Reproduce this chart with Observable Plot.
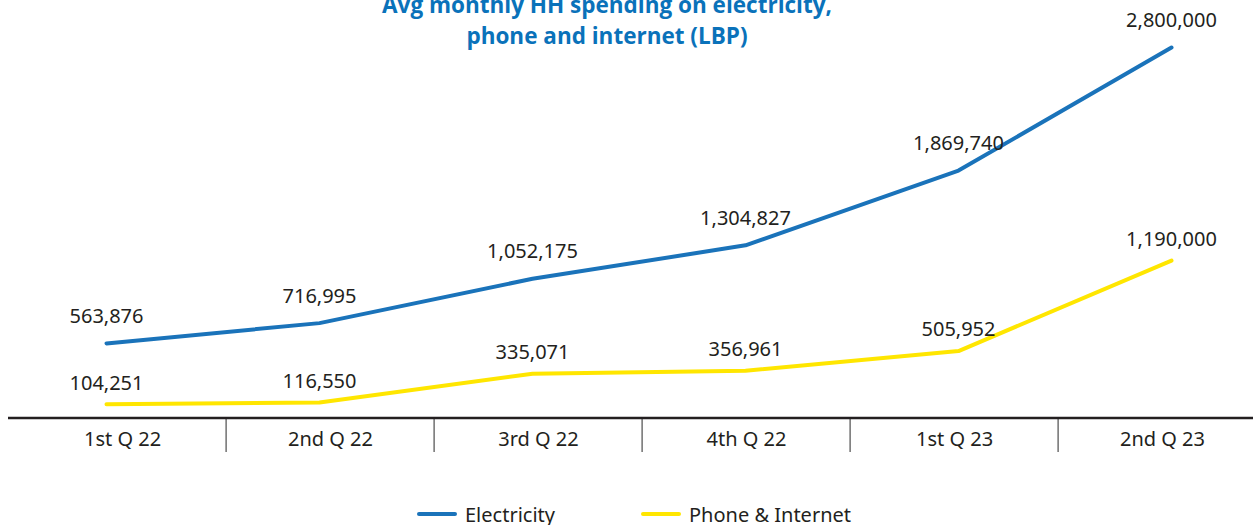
<!DOCTYPE html>
<html>
<head>
<meta charset="utf-8">
<script src="https://cdn.jsdelivr.net/npm/d3@7"></script>
<script src="https://cdn.jsdelivr.net/npm/@observablehq/plot@0.6"></script>
<style>
  html, body { margin: 0; padding: 0; background: #fff; overflow: hidden; }
  #wrap { position: relative; width: 1253px; height: 525px; }
  #wrap svg { position: absolute; left: 0; top: 0; }
  #title { position: absolute; left: 0; top: -11px; width: 1214px; text-align: center;
    font-family: "Open Sans", sans-serif; font-weight: 700; font-size: 22.5px; line-height: 31px; color: #0a72ba; z-index: 2; }
  #legend { position: absolute; top: 501px; left: 0; width: 1253px; height: 26px;
    font-family: "Noto Sans", sans-serif; font-size: 20px; color: #231f20; z-index: 2; }
  .item { position: absolute; top: 0; display: flex; align-items: center; height: 26px; }
  .sw { width: 40px; height: 4px; border-radius: 2px; margin-right: 8px; }
</style>
</head>
<body>
<div id="wrap">
  <div id="title">Avg monthly HH spending on electricity,<br>phone and internet (LBP)</div>
  <div id="legend"></div>
</div>
<script>
const categories = ["1st Q 22", "2nd Q 22", "3rd Q 22", "4th Q 22", "1st Q 23", "2nd Q 23"];
const electricity = [563876, 716995, 1052175, 1304827, 1869740, 2800000];
const phoneInternet = [104251, 116550, 335071, 356961, 505952, 1190000];
const seriesNames = ["Electricity", "Phone & Internet"];
const seriesColors = ["#1a73ba", "#ffe600"];

const rows = [];
categories.forEach((c, i) => {
  rows.push({cat: c, value: electricity[i], series: seriesNames[0]});
  rows.push({cat: c, value: phoneInternet[i], series: seriesNames[1]});
});
const elecRows = rows.filter(d => d.series === seriesNames[0]);
const phoneRows = rows.filter(d => d.series === seriesNames[1]);
const fmt = d3.format(",");
const font = "'Noto Sans', sans-serif";
const labelStyle = {x: "cat", y: "value", text: d => fmt(d.value), lineAnchor: "middle", fontSize: 20, fontFamily: font, fill: "#231f20"};

const main = Plot.plot({
  width: 1253,
  height: 525,
  marginLeft: 8,
  marginRight: 0,
  marginTop: 0,
  marginBottom: 0,
  style: {background: "transparent", overflow: "visible"},
  x: {type: "point", domain: categories, range: [104, 1173], padding: 0, axis: null},
  y: {domain: [0, 2800000], range: [417.5, 47], axis: null},
  color: {domain: seriesNames, range: seriesColors},
  marks: [
    Plot.ruleY([0], {stroke: "#231f20", strokeWidth: 2.5}),
    Plot.line(rows, {x: "cat", y: "value", z: "series", stroke: "series", strokeWidth: 4, strokeLinecap: "round", strokeLinejoin: "round"}),
    Plot.text(elecRows, {...labelStyle, dy: -27}),
    Plot.text(phoneRows, {...labelStyle, dy: -21})
  ]
});

const axis = Plot.plot({
  width: 1253,
  height: 525,
  marginLeft: 0,
  marginRight: 0,
  marginTop: 0,
  marginBottom: 0,
  style: {background: "transparent", overflow: "visible"},
  x: {type: "band", domain: categories, range: [15, 1268], padding: 0, axis: null},
  y: {domain: [0, 1], range: [418, 452], axis: null},
  marks: [
    Plot.ruleX(categories.slice(1), {x: d => d, y1: 0, y2: 1, dx: -104.4, stroke: "#4d4d4d", strokeWidth: 1.2}),
    Plot.text(categories, {x: d => d, y: 0.62, text: d => d, lineAnchor: "middle", fontSize: 20, fontFamily: font, fill: "#231f20"})
  ]
});

const wrap = document.getElementById("wrap");
wrap.appendChild(axis);
wrap.appendChild(main);

const legend = document.getElementById("legend");
const legendLeft = [417, 641];
seriesNames.forEach((n, i) => {
  const it = document.createElement("div");
  it.className = "item";
  it.style.left = legendLeft[i] + "px";
  const sw = document.createElement("div");
  sw.className = "sw";
  sw.style.background = seriesColors[i];
  const t = document.createElement("span");
  t.textContent = n;
  it.appendChild(sw); it.appendChild(t);
  legend.appendChild(it);
});
</script>
</body>
</html>
